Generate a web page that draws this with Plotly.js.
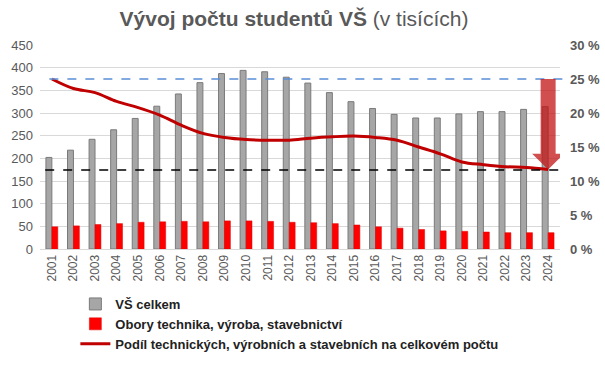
<!DOCTYPE html>
<html><head><meta charset="utf-8">
<script src="https://cdn.plot.ly/plotly-3.0.1.min.js"></script>
<style>html,body{margin:0;padding:0;background:#fff}#c{width:605px;height:366px}</style>
</head><body><div id="c"></div>
<script>
const years = [2001,2002,2003,2004,2005,2006,2007,2008,2009,2010,2011,2012,2013,2014,2015,2016,2017,2018,2019,2020,2021,2022,2023,2024];
const totalStudents = [202,218,242,263,288,315,342,367,387,394,391,379,366,345,325,310,297,289,289,298,303,303,308,314];
const techStudents = [49,51,54,56,59,60,61,60,62,62,61,59,58,56,53,49,46,43,40,39,37.5,36,36,36];
const techShare = [25.0,23.6,23.0,21.7,20.8,19.7,18.2,17.0,16.4,16.1,16.0,16.0,16.3,16.5,16.6,16.4,16.0,15.0,14.0,12.8,12.4,12.1,12.0,11.7];
const refHigh = 25;
const refLow = 11.6;
const seriesNames = ["VŠ celkem","Obory technika, výroba, stavebnictví","Podíl technických, výrobních a stavebních na celkovém počtu"];
const leftTicks = [0,50,100,150,200,250,300,350,400,450];
const rightTicks = [0,5,10,15,20,25,30];
const rightTickLabels = rightTicks.map(v => v + ' %');

const gray = '#595959';
const tickFont = {family:'Liberation Sans, Arial, sans-serif', size:13, color:gray};

const traces = [
  {type:'bar', x:years, y:totalStudents, name:seriesNames[0], legendgroup:'a',
   marker:{color:'#a6a6a6', line:{color:'#7a7a7a', width:1}}},
  {type:'bar', x:years, y:techStudents, name:seriesNames[1], legendgroup:'b',
   marker:{color:'#ff0000', line:{color:'#e00000', width:0.5}}},
  {type:'scatter', mode:'lines', x:years, y:techShare, yaxis:'y2', name:seriesNames[2], legendgroup:'c',
   line:{color:'#c00000', width:3, shape:'spline', smoothing:1}}
];

const lastYear = years[years.length-1];
const tipY = techShare[techShare.length-1];
const headY = tipY + 2.3;
const arrowPath = `M -7.5,${refHigh} L 7.5,${refHigh} L 7.5,${headY} L 16,${headY} L 0,${tipY} L -16,${headY} L -7.5,${headY} Z`;

const layout = {
  width:605, height:366,
  margin:{l:40, r:45, t:45, b:117},
  paper_bgcolor:'#fff', plot_bgcolor:'#fff',
  title:{text:'<b>Vývoj počtu studentů VŠ</b> (v tisících)', x:0.486, xanchor:'center', y:0.95, yanchor:'middle',
         font:{family:'Liberation Sans, Arial, sans-serif', size:21, color:gray}},
  barmode:'group', bargap:0.45, bargroupgap:0,
  xaxis:{type:'linear', range:[2000.45,2024.55], tickvals:years, ticktext:years.map(String), tickangle:-90,
         tickfont:{family:'Liberation Sans, Arial, sans-serif', size:12, color:gray}, showgrid:false, zeroline:false,
         showline:true, linecolor:'#d9d9d9', ticks:''},
  yaxis:{range:[0,450], tickvals:leftTicks, tickfont:tickFont, gridcolor:'#d9d9d9', gridwidth:1, zeroline:false, ticks:'', showline:false,
         ticklabelstandoff:6},
  yaxis2:{range:[0,30], overlaying:'y', side:'right', tickvals:rightTicks, ticktext:rightTickLabels, showgrid:false, zeroline:false,
          tickfont:{family:'Liberation Sans, Arial, sans-serif', size:13, color:gray, weight:'bold'}, ticks:'', ticklabelstandoff:9},
  showlegend:true,
  legend:{orientation:'v', x:0.068, xref:'paper', xanchor:'left', y:1-289/366, yref:'container', yanchor:'top',
          traceorder:'normal', tracegroupgap:13,
          itemwidth:30, font:{family:'Liberation Sans Narrow, Arial Narrow, Liberation Sans, sans-serif', size:13, color:'#222', weight:'bold'},
          bgcolor:'rgba(0,0,0,0)'},
  shapes:[
    {type:'line', xref:'paper', x0:0.018, x1:1.01, yref:'y2', y0:refHigh, y1:refHigh, line:{color:'#5b8fd6', width:1.5, dash:'dash'}},
    {type:'line', xref:'paper', x0:0.01, x1:1.012, yref:'y2', y0:refLow, y1:refLow, line:{color:'#000', width:1.5, dash:'dash'}},
    {type:'path', xref:'x', xsizemode:'pixel', xanchor:lastYear, yref:'y2', path:arrowPath,
     fillcolor:'rgba(195,20,20,0.75)', line:{width:0}}
  ]
};
Plotly.newPlot('c', traces, layout, {displayModeBar:false, staticPlot:true});
</script></body></html>
